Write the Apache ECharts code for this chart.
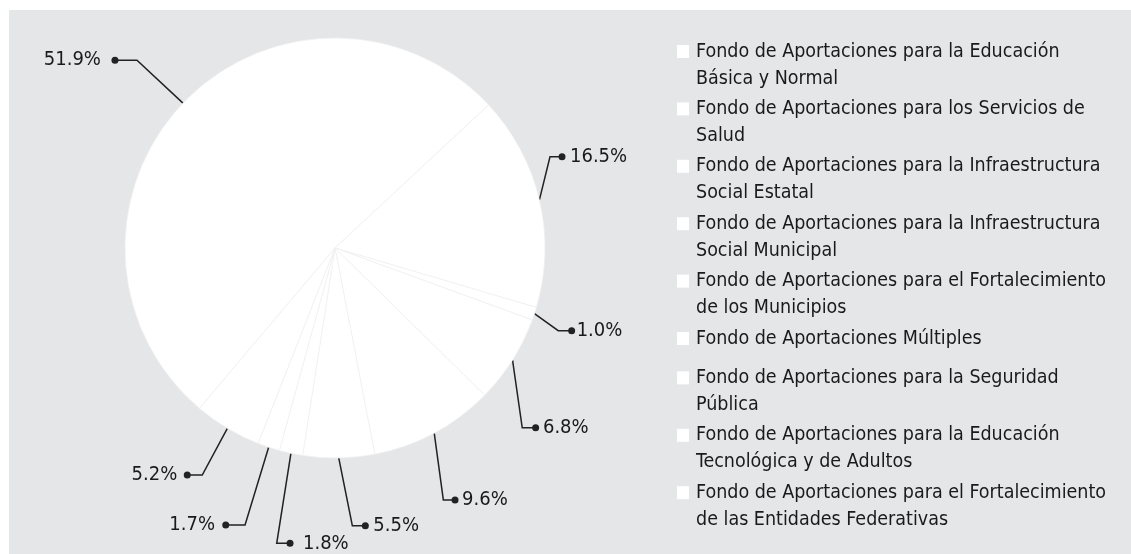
<!DOCTYPE html>
<html>
<head>
<meta charset="utf-8">
<script src="https://cdn.jsdelivr.net/npm/echarts@6/dist/echarts.min.js"></script>
<style>
  html, body { margin: 0; padding: 0; background: #ffffff; width: 1131px; height: 554px; overflow: hidden; }
  #chart { position: absolute; left: 9px; top: 10px; width: 1122px; height: 544px; }
</style>
</head>
<body>
<div id="chart"></div>
<script>
// Federal contribution funds (Ramo 33) — share of the total, in percent
const categories = [
  'Fondo de Aportaciones para la Educación\nBásica y Normal',
  'Fondo de Aportaciones para los Servicios de\nSalud',
  'Fondo de Aportaciones para la Infraestructura\nSocial Estatal',
  'Fondo de Aportaciones para la Infraestructura\nSocial Municipal',
  'Fondo de Aportaciones para el Fortalecimiento\nde los Municipios',
  'Fondo de Aportaciones Múltiples',
  'Fondo de Aportaciones para la Seguridad\nPública',
  'Fondo de Aportaciones para la Educación\nTecnológica y de Adultos',
  'Fondo de Aportaciones para el Fortalecimiento\nde las Entidades Federativas'
];
const shares = [51.9, 16.5, 1.0, 6.8, 9.6, 5.5, 1.8, 1.7, 5.2];

// Leader-line shape per slice: [elbow dx, elbow dy, horizontal run, gap dot→text]
// (offsets are relative to the point where the line leaves the slice edge)
const leaders = [
  [-46, -43, -22, 14],
  [10.6, -43, 12, 8],
  [23.8, 17, 13.4, 5],
  [9.7, 67.6, 13.4, 7.3],
  [9.1, 66.9, 11.7, 7],
  [13.6, 67.7, 13, 8],
  [-14.2, 90, 13.3, 13],
  [-23.6, 77.8, -19.3, 10.7],
  [-25.1, 46.7, -15, 10]
];

const FONT = "'DejaVu Sans Condensed', 'Liberation Sans', sans-serif";
const INK = '#1a1a1a';
const DOT = 7;

const labelRich = {
  v: { fontFamily: FONT, fontSize: 20, color: INK, lineHeight: 26 },
  dot: { width: DOT, height: DOT, borderRadius: DOT / 2, backgroundColor: '#222222' }
};
leaders.forEach((l, i) => {
  labelRich['s' + i] = { width: Math.max(l[3] - DOT / 2, 0), height: 1 };
});

const chart = echarts.init(document.getElementById('chart'), null, { renderer: 'canvas' });

chart.setOption({
  backgroundColor: '#e5e6e8',
  animation: false,
  legend: {
    orient: 'vertical',
    left: 662,
    top: 28,
    padding: 0,
    itemGap: 3.4,
    itemWidth: 0,
    itemHeight: 0,
    selectedMode: false,
    data: categories,
    formatter: function (name) {
      const lines = name.split('\n');
      let out = '{sq|}{g|}{t|' + lines[0] + '}';
      for (let i = 1; i < lines.length; i++) out += '\n{in|}{t|' + lines[i] + '}';
      if (lines.length === 1) out += '\n{pad|}';
      return out;
    },
    textStyle: {
      fontFamily: FONT,
      fontSize: 19.5,
      lineHeight: 27,
      color: INK,
      rich: {
        t: { fontFamily: FONT, fontSize: 19.5, lineHeight: 27, color: INK },
        sq: { width: 12, height: 13, backgroundColor: '#ffffff' },
        g: { width: 7, height: 1 },
        in: { width: 19, height: 1 },
        pad: { width: 1, height: 9, lineHeight: 9, fontSize: 1 }
      }
    }
  },
  series: [{
    type: 'pie',
    center: [326, 238],
    radius: 210,
    startAngle: 229.8,
    clockwise: true,
    avoidLabelOverlap: false,
    silent: true,
    itemStyle: { color: '#ffffff', borderColor: '#efefef', borderWidth: 0.7 },
    emphasis: { disabled: true },
    label: {
      show: true,
      position: 'outside',
      formatter: function (p) {
        const right = leaders[p.dataIndex][2] > 0;
        const v = '{v|' + p.value.toFixed(1) + '%}';
        const s = '{s' + p.dataIndex + '|}';
        return right ? '{dot|}' + s + v : v + s + '{dot|}';
      },
      rich: labelRich
    },
    labelLine: {
      show: true,
      length: 10,
      length2: 10,
      smooth: false,
      lineStyle: { color: '#222222', width: 1.5 }
    },
    labelLayout: function (params) {
      const l = leaders[params.dataIndex];
      const pts = params.labelLinePoints;
      if (!pts) return {};
      const p0 = pts[0];
      const elbow = [p0[0] + l[0], p0[1] + l[1]];
      const end = [elbow[0] + l[2], elbow[1]];
      const right = l[2] > 0;
      return {
        x: right ? end[0] - DOT / 2 : end[0] + DOT / 2,
        y: end[1],
        align: right ? 'left' : 'right',
        verticalAlign: 'middle',
        labelLinePoints: [p0, elbow, end]
      };
    },
    data: categories.map((name, i) => ({ name: name, value: shares[i] }))
  }]
});
</script>
</body>
</html>
